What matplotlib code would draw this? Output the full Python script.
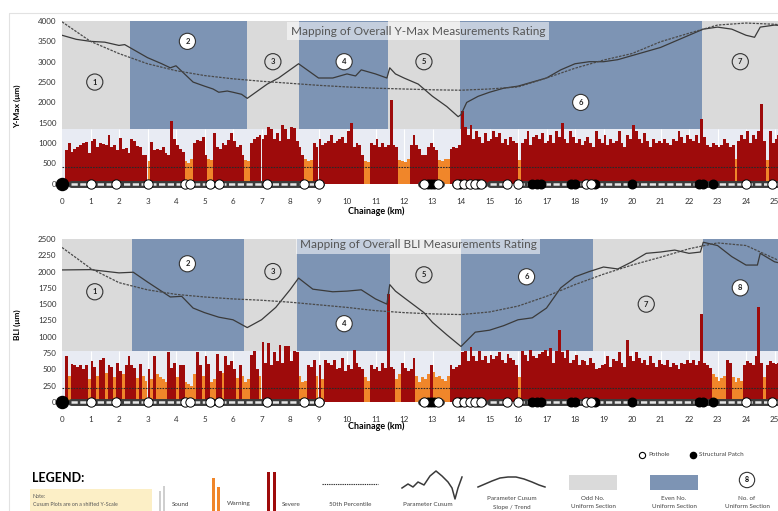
import matplotlib.pyplot as plt
import numpy as np
from matplotlib.patches import Rectangle

plt.rcParams["font.family"] = ["Lato", "DejaVu Sans"]

RED = "#9e0b0b"
ORANGE = "#f0862a"
SOUND = "#cfcfcf"
ODD = "#dadada"
EVEN = "#7d94b4"
LOWER_BG = "#e8ebf3"
LINE = "#3a3a3a"

# chainage bins (km), 0.1 km each
chainage = np.round(np.arange(0, 26, 0.1), 1)

# ---- Y-Max readings per 0.1 km (um) ----
ymax_vals = [
    0, 820, 1000, 780, 850, 900, 960, 1000, 1020, 760,
    1060, 1100, 900, 1000, 980, 950, 1200, 900, 960, 820,
    1130, 860, 880, 760, 1100, 1060, 920, 900, 720, 700,
    560, 1020, 840, 850, 820, 900, 760, 700, 1550, 1100,
    960, 860, 780, 560, 520, 600, 1000, 1080, 1050, 1160,
    720, 600, 580, 1250, 900, 850, 1000, 950, 1080, 1250,
    1050, 900, 960, 720, 580, 560, 1000, 1100, 1150, 1200,
    1100, 1200, 1400, 1350, 1100, 1250, 1050, 1450, 1350, 1100,
    1400, 1380, 1050, 900, 720, 600, 560, 580, 1000, 900,
    1100, 950, 1000, 1050, 1200, 1000, 1050, 1100, 1150, 1000,
    1300, 1500, 900, 1000, 960, 720, 560, 540, 1000, 950,
    1100, 900, 1000, 900, 960, 2050, 950, 900, 580, 560,
    540, 600, 950, 1200, 950, 850, 720, 700, 900, 1000,
    900, 820, 580, 560, 600, 620, 850, 900, 880, 950,
    1780, 1400, 1200, 1450, 1100, 1300, 1150, 1000, 1250, 1050,
    1100, 1300, 1150, 1250, 1000, 1100, 950, 1150, 1050, 1000,
    580, 1000, 1100, 1300, 950, 1150, 1200, 1100, 1250, 1000,
    1050, 1200, 1000, 1300, 1150, 1500, 1100, 1000, 1300, 1150,
    1000, 1100, 950, 1050, 1150, 1000, 900, 1300, 1100, 1000,
    1200, 950, 1100, 1000, 1050, 1300, 1000, 900, 1200, 1100,
    1450, 1300, 1100, 1000, 1250, 1050, 900, 1100, 1000, 1050,
    1000, 1100, 1000, 950, 1100, 1050, 1300, 1150, 1000, 1200,
    1100, 1050, 1200, 1000, 1600, 1150, 950, 900, 1000, 950,
    900, 950, 1100, 1000, 900, 950, 600, 1050, 1200, 1100,
    1300, 1000, 1200, 1100, 1300, 1950, 1050, 580, 1300, 1000,
    1100, 1200, 1000, 1100, 1000, 900, 1000, 1100, 1000, 900,
]

# ---- BLI readings per 0.1 km (um) ----
bli_vals = [
    0, 700, 400, 580, 560, 540, 560, 500, 560, 350,
    620, 540, 400, 640, 680, 440, 560, 540, 380, 600,
    480, 420, 560, 700, 560, 520, 360, 580, 400, 320,
    500, 350, 700, 420, 380, 350, 300, 760, 520, 600,
    380, 560, 560, 300, 280, 250, 420, 760, 560, 400,
    700, 580, 300, 350, 740, 480, 450, 700, 560, 620,
    500, 360, 560, 400, 300, 350, 720, 780, 500, 400,
    920, 600, 900, 560, 760, 620, 880, 600, 860, 850,
    620, 780, 760, 400, 300, 320, 560, 540, 640, 400,
    560, 350, 640, 600, 560, 640, 500, 520, 680, 480,
    560, 500, 800, 600, 540, 500, 380, 320, 560, 500,
    540, 480, 600, 520, 1650, 540, 500, 350, 420, 600,
    520, 480, 500, 680, 400, 300, 380, 350, 420, 560,
    460, 380, 400, 350, 320, 400, 560, 500, 540, 560,
    760, 780, 620, 840, 700, 620, 780, 640, 700, 600,
    720, 660, 700, 760, 640, 600, 740, 680, 640, 560,
    380, 780, 720, 620, 800, 700, 680, 740, 760, 800,
    700, 820, 600, 780, 1100, 760, 680, 800, 600, 640,
    720, 560, 640, 620, 560, 680, 600, 500, 520, 560,
    580, 700, 540, 660, 620, 760, 600, 540, 950, 700,
    620, 760, 680, 600, 640, 560, 700, 600, 540, 640,
    580, 560, 640, 540, 600, 560, 500, 600, 580, 640,
    600, 640, 560, 620, 1350, 600, 560, 520, 420, 380,
    320, 360, 400, 640, 600, 380, 300, 360, 320, 560,
    620, 600, 560, 700, 1450, 600, 380, 560, 620, 600,
    580, 600, 560, 620, 600, 540, 580, 600, 620, 560,
]

# ---- cusum curves (shifted scale) ----
ymax_cusum_km = [0, 0.5, 1, 1.5, 2, 2.2, 2.5, 3, 3.5, 3.8, 4.0, 4.3, 4.6, 5.0, 5.3, 5.5,
                 5.8, 6.0, 6.3, 6.5, 6.8, 7.2, 7.6, 8.0, 8.3, 8.6, 9.0, 9.5, 10.0, 10.3,
                 10.5, 11.0, 11.4, 11.5, 11.7, 12.0, 12.5, 13.0, 13.5, 13.9, 14.0, 14.2,
                 14.6, 15.0, 15.5, 16.0, 16.5, 17.0, 17.5, 18.0, 18.5, 19.0, 19.5, 20.0,
                 20.5, 21.0, 21.5, 22.0, 22.5, 23.0, 23.5, 24.0, 24.3, 24.5, 25.0, 26.0]
ymax_cusum = [3650, 3550, 3500, 3480, 3400, 3420, 3300, 3100, 2950, 2850, 2900, 2700, 2500,
              2400, 2330, 2250, 2280, 2250, 2200, 2100, 2250, 2450, 2600, 2800, 2950, 2800,
              2600, 2600, 2700, 2650, 2800, 2700, 2600, 2850, 2700, 2600, 2450, 2150, 1900,
              1650, 1700, 2000, 2150, 2250, 2350, 2400, 2500, 2600, 2800, 2950, 3000, 3000,
              3050, 3150, 3250, 3350, 3500, 3650, 3800, 3850, 3800, 3650, 3600, 3850, 3900,
              3850]
trend_km = list(range(27))
ymax_trend = [3980, 3500, 3200, 2950, 2780, 2660, 2580, 2520, 2470, 2420, 2380, 2350, 2330,
              2310, 2300, 2330, 2380, 2600, 2840, 3040, 3200, 3490, 3700, 3900, 3950, 3920,
              3850]

bli_cusum_km = [0, 1, 2, 2.5, 3, 3.8, 4.2, 4.6, 5, 5.5, 6, 6.5, 7, 7.5, 8.0, 8.3, 8.8, 9.5,
                10, 10.5, 11, 11.4, 11.5, 11.7, 12, 12.7, 13.0, 13.5, 14.0, 14.5, 15, 15.5,
                16, 16.5, 17, 17.5, 18, 18.5, 19, 19.5, 20, 20.5, 21, 21.5, 22, 22.4, 22.5,
                23, 23.5, 24, 24.4, 24.5, 25, 26]
bli_cusum = [2025, 2030, 1980, 1990, 1840, 1610, 1620, 1440, 1370, 1300, 1260, 1140, 1260,
             1450, 1720, 1900, 1730, 1690, 1700, 1720, 1580, 1500, 1800, 1700, 1600, 1370,
             1220, 1030, 850, 1070, 1100, 1170, 1260, 1290, 1440, 1750, 1920, 2000, 2070,
             2040, 2150, 2280, 2300, 2330, 2280, 2300, 2450, 2400, 2230, 2100, 2100, 2280,
             2150, 2050]
bli_trend = [2370, 2050, 1830, 1720, 1650, 1610, 1580, 1560, 1530, 1490, 1450, 1400, 1370,
             1350, 1340, 1380, 1470, 1620, 1800, 1960, 2100, 2220, 2350, 2440, 2400, 2200,
             2000]

# ---- uniform sections ----
ymax_bounds = [0, 2.4, 6.5, 8.3, 11.45, 13.97, 22.45, 27]
ymax_label_pos = [(1.15, 2500), (4.4, 3500), (7.4, 3000), (9.9, 3000), (12.7, 3000),
                  (18.2, 2000), (23.8, 3000)]
bli_bounds = [0, 2.46, 6.4, 8.25, 11.5, 14.0, 18.63, 22.5, 27]
bli_label_pos = [(1.15, 1690), (4.4, 2120), (7.4, 2000), (9.9, 1200), (12.7, 1950),
                 (16.3, 1920), (20.5, 1500), (23.8, 1750)]

# ---- defects along the chainage ----
band_segments = [(0.3, 9.1), (12.6, 13.3), (13.8, 14.8), (15.0, 15.6), (16.0, 24.0),
                 (24.0, 26.0)]
pothole_km = [1.0, 1.9, 3.0, 4.3, 4.5, 5.2, 5.5, 7.2, 8.5, 9.0, 12.7, 13.2, 13.85, 14.1,
              14.3, 14.5, 14.7, 15.6, 16.0, 18.4, 18.55, 24.0, 24.9]
patch_km = [12.85, 12.95, 13.05, 13.95, 14.6, 16.5, 16.65, 16.8, 17.85, 18.0, 18.7, 20.0,
            22.35, 22.5, 22.85]


def draw_panel(ax, vals, warn, sound, thr, top, p50, bounds, labels,
               cusum_km, cusum, trend, yticks, ylabel):
    ax.set_xlim(0, 26)
    ax.add_patch(Rectangle((0, 0), 27, thr, color=LOWER_BG, zorder=0, lw=0))
    ax.vlines(np.arange(1, 26), 0, thr, color="white", lw=0.8, zorder=0.5)
    for i, (a, b) in enumerate(zip(bounds[:-1], bounds[1:])):
        ax.add_patch(Rectangle((a, thr), b - a, top - thr,
                               color=ODD if i % 2 == 0 else EVEN, zorder=0, lw=0))
    vals = np.array(vals)
    colors = np.where(vals >= warn, RED, np.where(vals >= sound, ORANGE, SOUND))
    ax.bar(chainage + 0.05, vals, width=0.1, color=colors, linewidth=0, zorder=2)
    ax.axhline(p50, color="#2a2a2a", lw=0.8, ls=(0, (1.5, 1)), zorder=3)
    ax.plot(cusum_km, cusum, color=LINE, lw=0.9, zorder=4)
    ax.plot(trend_km, trend, color="#4a4a4a", lw=0.9, ls=(0, (2, 1)), zorder=4)
    for i, (x, y) in enumerate(labels):
        ax.text(x, y, str(i + 1), ha="center", va="center", fontsize=5.5,
                fontweight="bold", color="#222", zorder=6,
                bbox=dict(boxstyle="circle,pad=0.6",
                          fc=ODD if i % 2 == 0 else "white", ec="#333", lw=0.8))
    for a, b in band_segments:
        ax.plot([a, b], [0, 0], color="#3c3c3c", lw=5, zorder=5,
                solid_capstyle="round", clip_on=False)
        ax.plot([a, b], [0, 0], color="#e6e6e6", lw=1.8, zorder=5,
                ls=(0, (2.5, 1)), clip_on=False)
    ax.scatter(patch_km, np.zeros(len(patch_km)), s=38, color="black", zorder=6,
               clip_on=False)
    ax.scatter(pothole_km, np.zeros(len(pothole_km)), s=45, facecolor="white",
               edgecolor="black", lw=0.7, zorder=7, clip_on=False)
    ax.scatter([0], [0], s=75, color="black", zorder=7, clip_on=False)
    ax.set_xticks(range(26))
    ax.set_yticks(yticks)
    ax.tick_params(length=0, labelsize=5.8, colors="#333", pad=4)
    for s in ax.spines.values():
        s.set_visible(False)
    ax.set_ylabel(ylabel, fontsize=6, fontweight="bold", labelpad=6)


fig = plt.figure(figsize=(7.78, 5.11), dpi=100)

ax1 = fig.add_axes([62 / 778, 1 - 192 / 511, 741 / 778, 171 / 511])
draw_panel(ax1, ymax_vals, 650, 300, 1350, 4000, 420, ymax_bounds, ymax_label_pos,
           ymax_cusum_km, ymax_cusum, ymax_trend, range(0, 4001, 500), "Y-Max (μm)")
ax1.set_ylim(-200, 4000)

ax2 = fig.add_axes([62 / 778, 1 - 410 / 511, 741 / 778, 171 / 511])
draw_panel(ax2, bli_vals, 470, 180, 780, 2500, 210, bli_bounds, bli_label_pos,
           bli_cusum_km, bli_cusum, bli_trend, range(0, 2501, 250), "BLI (μm)")
ax2.set_ylim(-125, 2500)

for ax in (ax1, ax2):
    ax.yaxis.set_label_coords(-0.055, 0.5)

fig.text(376 / 778, 1 - 211 / 511, "Chainage (km)", ha="center", va="center",
         fontsize=6.5, fontweight="bold")
fig.text(376 / 778, 1 - 426 / 511, "Chainage (km)", ha="center", va="center",
         fontsize=6.5, fontweight="bold")
fig.text(418 / 778, 1 - 31 / 511, "Mapping of Overall Y-Max Measurements Rating",
         ha="center", va="center", fontsize=8.5, color="#555",
         bbox=dict(fc="white", ec="none", alpha=0.55, pad=2.5))
fig.text(418 / 778, 1 - 245 / 511, "Mapping of Overall BLI Measurements Rating",
         ha="center", va="center", fontsize=8.5, color="#555",
         bbox=dict(fc="white", ec="none", alpha=0.55, pad=2.5))

# legend strip, drawn in pixel coordinates
lax = fig.add_axes([0, 0, 1, 1])
lax.set_xlim(0, 778)
lax.set_ylim(511, 0)
lax.axis("off")
lax.add_patch(Rectangle((9, 13), 800, 600, fill=False, ec="#e2e2e2", lw=0.8))
lax.text(32, 478, "LEGEND:", fontsize=9, fontweight="bold", va="center")
lax.add_patch(Rectangle((30, 489), 122, 25, color="#fcefc6", lw=0))
lax.text(33, 496, "Note:", fontsize=3.8, va="center", color="#555")
lax.text(33, 504, "Cusum Plots are on a shifted Y-Scale", fontsize=3.8, va="center",
         color="#555")
small = dict(fontsize=4.5, va="center", color="#444")
lax.bar([160, 164], [-20, -25], bottom=511, width=2.5, color=SOUND)
lax.text(172, 504, "Sound", **small)
lax.bar([214, 219], [-33, -24], bottom=511, width=3, color=ORANGE)
lax.text(227, 504, "Warning", **small)
lax.bar([269, 275], [-39, -39], bottom=511, width=3, color=RED)
lax.text(282, 504, "Severe", **small)
lax.plot([322, 378], [484, 484], color="#333", lw=0.8, ls=(0, (1.2, 0.8)))
lax.text(350, 505, "50th Percentile", ha="center", **small)
lax.plot([402, 408, 413, 418, 424, 430, 436, 442, 448, 452, 455, 458, 462],
         [488, 484, 487, 482, 485, 476, 471, 476, 482, 488, 499, 488, 477],
         color=LINE, lw=1.1)
lax.text(428, 505, "Parameter Cusum", ha="center", **small)
lax.plot([478, 485, 492, 500, 508, 516, 524, 532, 539, 545],
         [487, 484, 481, 478, 477, 477, 479, 482, 485, 487], color=LINE, lw=1.1)
lax.text(512, 498, "Parameter Cusum", ha="center", **small)
lax.text(512, 507, "Slope / Trend", ha="center", **small)
lax.add_patch(Rectangle((569, 475), 48, 15, color=ODD, lw=0))
lax.text(593, 498, "Odd No.", ha="center", **small)
lax.text(593, 507, "Uniform Section", ha="center", **small)
lax.add_patch(Rectangle((650, 475), 48, 15, color=EVEN, lw=0))
lax.text(674, 498, "Even No.", ha="center", **small)
lax.text(674, 507, "Uniform Section", ha="center", **small)
lax.text(747, 480, "8", ha="center", va="center", fontsize=5, fontweight="bold",
         bbox=dict(boxstyle="circle,pad=0.6", fc="white", ec="#333", lw=0.8))
lax.text(747, 498, "No. of", ha="center", **small)
lax.text(747, 507, "Uniform Section", ha="center", **small)
lax.scatter([642], [455], s=20, facecolor="white", edgecolor="black", lw=0.8)
lax.text(648, 455, "Pothole", **small)
lax.scatter([693], [455], s=20, color="black")
lax.text(699, 455, "Structural Patch", **small)

fig.savefig("out.png", dpi=100)
